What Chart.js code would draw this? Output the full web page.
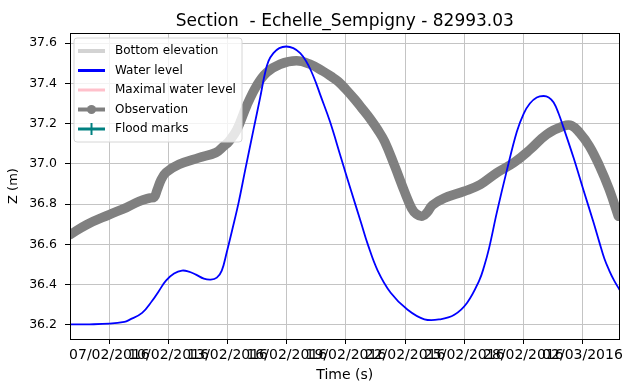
<!DOCTYPE html>
<html><head><meta charset="utf-8">
<script src="https://cdn.jsdelivr.net/npm/chart.js@4.4.1/dist/chart.umd.min.js"></script>
<style>html,body{margin:0;padding:0;background:#fff}#wrap{width:626px;height:383px;position:relative}</style>
</head><body><div id="wrap"><canvas id="c" width="626" height="383"></canvas></div>
<script>
const titleText = 'Section  - Echelle_Sempigny - 82993.03';
const xAxisLabel = 'Time (s)';
const yAxisLabel = 'Z (m)';
const seriesNames = ['Bottom elevation', 'Water level', 'Maximal water level', 'Observation', 'Flood marks'];
// x: days since 01/02/2016 00:00
const tickDays = [6, 9, 12, 15, 18, 21, 24, 27, 30];
const tickLabels = ['07/02/2016', '10/02/2016', '13/02/2016', '16/02/2016', '19/02/2016', '22/02/2016', '25/02/2016', '28/02/2016', '02/03/2016'];
const yTicks = [36.2, 36.4, 36.6, 36.8, 37.0, 37.2, 37.4, 37.6];

const waterDays = [4.0, 4.99, 6.0, 6.76, 7.01, 7.66, 8.17, 8.52, 8.87, 9.28, 9.68, 10.03, 10.39, 10.79, 11.14, 11.45, 11.70, 11.95, 12.25, 12.56, 12.89, 13.31, 13.65, 13.87, 14.07, 14.32, 14.62, 14.97, 15.33, 15.68, 15.98, 16.24, 16.49, 16.69, 17.19, 17.75, 18.25, 18.76, 19.11, 19.61, 20.27, 21.13, 21.98, 22.79, 23.50, 24.15, 24.76, 25.01, 25.26, 25.66, 26.17, 26.67, 27.02, 27.33, 27.68, 28.03, 28.29, 28.54, 28.79, 29.04, 29.55, 30.05, 30.56, 30.86, 31.11, 31.36, 31.61, 31.88];
const waterZ = [36.203, 36.203, 36.206, 36.215, 36.225, 36.26, 36.32, 36.37, 36.42, 36.455, 36.47, 36.465, 36.45, 36.43, 36.425, 36.435, 36.47, 36.56, 36.68, 36.81, 36.97, 37.17, 37.33, 37.44, 37.51, 37.55, 37.575, 37.583, 37.575, 37.55, 37.51, 37.46, 37.40, 37.345, 37.21, 37.03, 36.87, 36.71, 36.60, 36.47, 36.36, 36.275, 36.228, 36.228, 36.25, 36.31, 36.42, 36.49, 36.58, 36.76, 36.97, 37.16, 37.25, 37.30, 37.33, 37.337, 37.33, 37.305, 37.25, 37.18, 37.03, 36.87, 36.71, 36.61, 36.53, 36.47, 36.42, 36.375];

const obsDays = [4.0, 4.84, 6.0, 6.86, 7.51, 8.02, 8.27, 8.42, 8.62, 8.87, 9.53, 10.54, 11.40, 11.80, 12.05, 12.47, 12.97, 13.48, 13.98, 14.66, 15.49, 16.17, 16.84, 17.24, 17.60, 18.00, 18.45, 18.86, 19.26, 19.61, 19.97, 20.47, 20.98, 21.33, 21.58, 21.88, 22.13, 22.39, 22.99, 24.0, 24.81, 25.66, 26.52, 27.33, 28.19, 29.04, 29.45, 29.85, 30.35, 30.86, 31.36, 31.82];
const obsZ = [36.648, 36.698, 36.748, 36.783, 36.814, 36.83, 36.835, 36.87, 36.92, 36.957, 36.997, 37.03, 37.056, 37.088, 37.11, 37.17, 37.29, 37.39, 37.454, 37.495, 37.512, 37.495, 37.46, 37.435, 37.41, 37.37, 37.32, 37.27, 37.22, 37.17, 37.11, 36.99, 36.86, 36.78, 36.75, 36.74, 36.76, 36.795, 36.83, 36.864, 36.897, 36.956, 37.006, 37.07, 37.147, 37.188, 37.19, 37.155, 37.088, 36.99, 36.873, 36.74];

const pts = (xs, ys) => xs.map((x, i) => ({x: x, y: ys[i]}));
const FONT = 'DejaVu Sans';

const decorPlugin = {
  id: 'decor',
  afterDraw(chart) {
    const ctx = chart.ctx, a = chart.chartArea;
    ctx.save();
    // plot frame
    ctx.strokeStyle = '#000'; ctx.lineWidth = 1;
    ctx.strokeRect(Math.round(a.left) + 0.5, Math.round(a.top) + 0.5, Math.round(a.right - a.left) - 1, Math.round(a.bottom - a.top));
    // title
    ctx.fillStyle = '#000';
    ctx.font = '17px "' + FONT + '"';
    ctx.textAlign = 'center'; ctx.textBaseline = 'alphabetic';
    ctx.fillText(titleText, (a.left + a.right) / 2, 26);
    // axis titles
    ctx.font = '14px "' + FONT + '"';
    ctx.textBaseline = 'middle';
    ctx.fillText(xAxisLabel, (a.left + a.right) / 2, 375);
    ctx.save();
    ctx.translate(14, (a.top + a.bottom) / 2);
    ctx.rotate(-Math.PI / 2);
    ctx.font = '13px "' + FONT + '"';
    ctx.fillText(yAxisLabel, 0, 0);
    ctx.restore();
    // legend
    const bx = 74, by = 38, bw = 168, bh = 104, r = 3;
    ctx.beginPath();
    ctx.moveTo(bx + r, by); ctx.lineTo(bx + bw - r, by); ctx.quadraticCurveTo(bx + bw, by, bx + bw, by + r);
    ctx.lineTo(bx + bw, by + bh - r); ctx.quadraticCurveTo(bx + bw, by + bh, bx + bw - r, by + bh);
    ctx.lineTo(bx + r, by + bh); ctx.quadraticCurveTo(bx, by + bh, bx, by + bh - r);
    ctx.lineTo(bx, by + r); ctx.quadraticCurveTo(bx, by, bx + r, by);
    ctx.closePath();
    ctx.fillStyle = 'rgba(255,255,255,0.8)'; ctx.fill();
    ctx.strokeStyle = '#d6d6d6'; ctx.lineWidth = 1; ctx.stroke();
    ctx.font = '12px "' + FONT + '"';
    ctx.textAlign = 'left'; ctx.textBaseline = 'middle';
    chart.data.datasets.forEach((ds, i) => {
      const y = 51 + i * 19.5;
      ctx.strokeStyle = ds.borderColor;
      ctx.lineWidth = ds.legendWidth;
      ctx.beginPath(); ctx.moveTo(78, y); ctx.lineTo(105, y); ctx.stroke();
      if (ds.legendMarker === 'circle') {
        ctx.fillStyle = ds.borderColor;
        ctx.beginPath(); ctx.arc(91.5, y, 4.5, 0, Math.PI * 2); ctx.fill();
      } else if (ds.legendMarker === 'cross') {
        ctx.lineWidth = 2;
        ctx.beginPath(); ctx.moveTo(91.5, y - 6); ctx.lineTo(91.5, y + 6); ctx.stroke();
      }
      ctx.fillStyle = '#000';
      ctx.fillText(ds.label, 115, y);
    });
    ctx.restore();
  }
};

new Chart(document.getElementById('c'), {
  type: 'line',
  data: {
    datasets: [
      {label: seriesNames[0], data: [], borderColor: '#d3d3d3', legendWidth: 4, pointRadius: 0},
      {label: seriesNames[1], data: pts(waterDays, waterZ), borderColor: '#0000ff', borderWidth: 1.8, pointRadius: 0, tension: 0.4, legendWidth: 3},
      {label: seriesNames[2], data: [], borderColor: '#ffc0cb', legendWidth: 3, pointRadius: 0},
      {label: seriesNames[3], data: pts(obsDays, obsZ), borderColor: '#808080', borderWidth: 9.5, pointRadius: 0, tension: 0.4, borderCapStyle: 'round', borderJoinStyle: 'round', legendWidth: 4, legendMarker: 'circle'},
      {label: seriesNames[4], data: [], borderColor: '#008080', legendWidth: 3, legendMarker: 'cross', pointRadius: 0}
    ]
  },
  options: {
    responsive: false,
    animation: false,
    devicePixelRatio: 1,
    layout: {padding: {top: 33, right: 3, left: 0, bottom: 0}},
    plugins: {legend: {display: false}, title: {display: false}, tooltip: {enabled: false}},
    scales: {
      x: {
        type: 'linear', min: 4.0, max: 31.88,
        afterBuildTicks: s => { s.ticks = tickDays.map(v => ({value: v})); },
        afterFit: s => { s.height = 44; },
        grid: {color: '#c4c4c4', lineWidth: 1, tickLength: 5, tickColor: '#000'},
        border: {display: true, color: '#000'},
        ticks: {autoSkip: false, maxRotation: 0, minRotation: 0, padding: 3, color: '#000',
          font: {family: FONT, size: 14}, callback: (v, i) => tickLabels[i]}
      },
      y: {
        type: 'linear', min: 36.13, max: 37.65,
        afterBuildTicks: s => { s.ticks = yTicks.map(v => ({value: v})); },
        afterFit: s => { s.width = 70; },
        grid: {color: '#c4c4c4', lineWidth: 1, tickLength: 5, tickColor: '#000'},
        border: {display: true, color: '#000'},
        ticks: {padding: 8, color: '#000', font: {family: FONT, size: 12.5}, callback: v => Number(v).toFixed(1)}
      }
    }
  },
  plugins: [decorPlugin]
});
</script>
</body></html>
